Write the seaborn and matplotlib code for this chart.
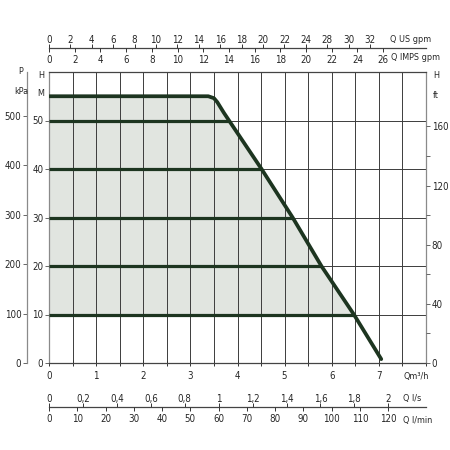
import numpy as np
import matplotlib
matplotlib.use("Agg")
import matplotlib.pyplot as plt
import seaborn as sns

# curva della pompa (Q in m3/h, H in m)
curve_q = [0, 3.38, 3.50, 3.57, 3.71, 3.82, 4.51, 5.17, 5.78, 6.47, 7.05]
curve_h = [55, 55, 54.6, 53.8, 51.6, 50, 40, 30, 20, 10, 0.8]
levels_h = [10, 20, 30, 40, 50]

# assi e etichette
q_m3h_ticks = [0, 1, 2, 3, 4, 5, 6, 7]
h_m_ticks = [0, 10, 20, 30, 40, 50]
p_kpa_ticks = [0, 100, 200, 300, 400, 500]
h_ft_ticks = [0, 40, 80, 120, 160]
h_ft_minor = [20, 60, 100, 140]
us_gpm_ticks = [0, 2, 4, 6, 8, 10, 12, 14, 16, 18, 20, 22, 24, 26, 28, 30]
us_gpm_labels = ["0", "2", "4", "6", "8", "10", "12", "14", "16", "18", "20",
                 "22", "24", "28", "30", "32"]
imp_gpm_ticks = [0, 2, 4, 6, 8, 10, 12, 14, 16, 18, 20, 22, 24, 26]
ls_ticks = [0, 0.2, 0.4, 0.6, 0.8, 1, 1.2, 1.4, 1.6, 1.8, 2]
ls_labels = ["0", "0,2", "0,4", "0,6", "0,8", "1", "1,2", "1,4", "1,6", "1,8", "2"]
lmin_ticks = [0, 10, 20, 30, 40, 50, 60, 70, 80, 90, 100, 110, 120]

# conversioni
KPA_PER_M = 9.81
FT_PER_M = 3.2808
US_PER_M3H = 4.4029
IMP_PER_M3H = 3.6662
LS_PER_M3H = 1 / 3.6
LMIN_PER_M3H = 1000 / 60

sns.set_style("white")
plt.rcParams["font.family"] = ["DejaVu Sans"]
plt.rcParams["font.stretch"] = "condensed"
plt.rcParams["font.size"] = 7

FS = 7
FS_UNIT = 6.5
GREEN = "#1d3520"
GRID = "#3c3c3c"
SPINE = "#8a8a8a"
FILL = "#e1e5e0"

W = H = 450
fig = plt.figure(figsize=(4.5, 4.5), dpi=100)
L, R = 49 / W, 426 / W
B, T = 1 - 363 / H, 1 - 72 / H
ax = fig.add_axes([L, B, R - L, T - B])

QMAX, HMAX = 8, 60
ax.set_xlim(0, QMAX)
ax.set_ylim(0, HMAX)

cq = np.array(curve_q)
ch = np.array(curve_h)

# area tra H=10 e la curva
m = ch >= min(levels_h)
ax.fill_between(cq[m], min(levels_h), ch[m], color=FILL, lw=0, zorder=0.2)

# linee orizzontali fino alla curva
q_at = np.interp(levels_h, ch[::-1], cq[::-1])
ax.hlines(levels_h, 0, q_at, color=GREEN, lw=2.3, zorder=3)

sns.lineplot(x=curve_q, y=curve_h, sort=False, estimator=None, color=GREEN,
             lw=2.7, ax=ax, zorder=4, solid_capstyle="round")

# griglia
ax.set_xticks(q_m3h_ticks)
ax.set_xticklabels([str(v) for v in q_m3h_ticks])
ax.set_xticks(np.arange(0, QMAX + 0.01, 0.5), minor=True)
ax.set_yticks(h_m_ticks)
ax.grid(True, axis="x", which="both", color=GRID, lw=0.7)
ax.grid(True, axis="y", which="major", color=GRID, lw=0.7)
ax.tick_params(axis="x", which="both", direction="inout", length=4, width=0.7,
               color="#333", bottom=True, pad=4, labelsize=FS)
ax.tick_params(axis="y", which="both", direction="out", length=3, width=0.7,
               color="#666", left=True, pad=1, labelsize=FS)
for s in ["top", "bottom"]:
    ax.spines[s].set_color("#444")
    ax.spines[s].set_linewidth(0.9)
for s in ["left", "right"]:
    ax.spines[s].set_color(SPINE)
    ax.spines[s].set_linewidth(0.9)

# asse kPa
ax_p = ax.twinx()
ax_p.set_ylim(0, HMAX * KPA_PER_M)
ax_p.yaxis.tick_left()
ax_p.set_yticks(p_kpa_ticks)
for s in ["right", "top", "bottom"]:
    ax_p.spines[s].set_visible(False)
ax_p.spines["left"].set_visible(True)
ax_p.spines["left"].set_position(("outward", 22 * 0.72))
ax_p.spines["left"].set_color(SPINE)
ax_p.spines["left"].set_linewidth(0.9)
ax_p.tick_params(axis="y", direction="out", length=3, width=0.7, color="#666",
                 pad=1, labelsize=FS)

# asse ft
ax_f = ax.twinx()
ax_f.set_ylim(0, HMAX * FT_PER_M)
ax_f.set_yticks(h_ft_ticks)
ax_f.set_yticks(h_ft_minor, minor=True)
for s in ["left", "top", "bottom", "right"]:
    ax_f.spines[s].set_visible(False)
ax_f.tick_params(axis="y", which="both", direction="out", length=3, width=0.7,
                 color="#666", pad=1, labelsize=FS, right=True)


def scale_axis(y_px, factor, ticks, labels, top_labels, tick_dir):
    a = fig.add_axes([L, 1 - y_px / H, R - L, 1e-6])
    a.set_xlim(0, QMAX * factor)
    a.set_yticks([])
    a.patch.set_visible(False)
    for s in ["left", "right", "top", "bottom"]:
        a.spines[s].set_visible(False)
    a.set_xticks(ticks)
    a.set_xticklabels(labels)
    a.tick_params(axis="x", bottom=True, top=False, direction=tick_dir,
                  length=3, width=0.7, color="#333", labelsize=FS,
                  labelbottom=not top_labels, labeltop=top_labels, pad=2)
    return a


# scale in alto
a_us = scale_axis(48, US_PER_M3H, us_gpm_ticks, us_gpm_labels, True, "in")
a_us.spines["bottom"].set_visible(True)
a_us.spines["bottom"].set_color("#444")
a_us.spines["bottom"].set_linewidth(0.9)
scale_axis(48, IMP_PER_M3H, imp_gpm_ticks,
           [str(v) for v in imp_gpm_ticks], False, "out")

# scale in basso
a_ls = scale_axis(407, LS_PER_M3H, ls_ticks, ls_labels, True, "in")
a_ls.spines["bottom"].set_visible(True)
a_ls.spines["bottom"].set_color("#444")
a_ls.spines["bottom"].set_linewidth(0.9)
scale_axis(407, LMIN_PER_M3H, lmin_ticks,
           [str(v) for v in lmin_ticks], False, "out")


def ptext(x, y, s, ha="left"):
    fig.text(x / W, 1 - y / H, s, ha=ha, va="center", fontsize=FS_UNIT)


ptext(390, 39, "Q US gpm")
ptext(391, 57, "Q IMPS gpm")
ptext(403, 377, "Qm³/h")
ptext(403, 398, "Q l/s")
ptext(403, 421, "Q l/min")
ptext(433, 76, "H")
ptext(433, 95, "ft")
ptext(21, 72, "P", ha="center")
ptext(21, 92, "kPa", ha="center")
ptext(41, 75, "H", ha="center")
ptext(41, 93, "M", ha="center")

fig.savefig("out.png", dpi=100)
